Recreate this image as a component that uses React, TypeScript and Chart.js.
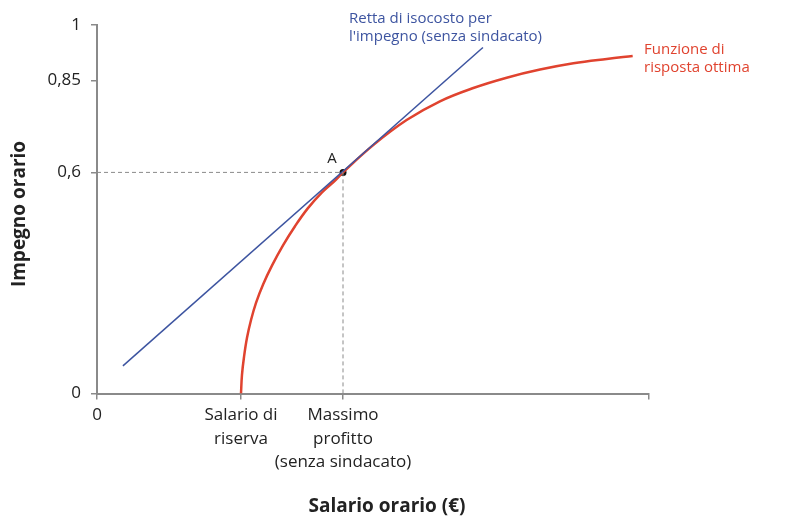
import React, { useEffect, useRef } from "react";
import { Chart, registerables } from "chart.js";
import type { Plugin } from "chart.js";

Chart.register(...registerables);

// y ticks (impegno orario) and x ticks (salario orario)
const yTickValues = [0, 0.6, 0.85, 1];
const xTickValues = [0, 6, 10.25, 23];
const xTickLabels: (string | string[])[] = [
  "0",
  ["Salario di", "riserva"],
  ["Massimo", "profitto", "(senza sindacato)"],
  "",
];

// funzione di risposta ottima (red curve)
const bestX = [6.0, 6.04, 6.125, 6.25, 6.42, 6.625, 6.92, 7.29, 7.75, 8.25, 8.79, 9.375, 9.92, 10.25, 11.51, 12.9, 14.29, 15.68, 17.07, 18.46, 19.85, 21.24, 22.32];
const bestY = [0, 0.05, 0.099, 0.151, 0.2, 0.246, 0.296, 0.347, 0.402, 0.454, 0.503, 0.546, 0.578, 0.6, 0.674, 0.742, 0.793, 0.829, 0.857, 0.879, 0.896, 0.908, 0.916];

// retta di isocosto (blue line)
const isoX = [1.08, 16.08];
const isoY = [0.075, 0.939];

// point A
const pointAX = 10.25;
const pointAY = 0.6;

const FONT = "'Open Sans', 'Noto Sans', sans-serif";
const BLUE = "#3d54a0";
const RED = "#e0432f";
const GRAY = "#8a8a8a";
const TEXT = "#222";

const App: React.FC = () => {
  const canvasRef = useRef<HTMLCanvasElement | null>(null);
  const chartRef = useRef<Chart | null>(null);

  useEffect(() => {
    document.body.style.margin = "0";
    const canvas = canvasRef.current;
    if (!canvas) return;
    const ctx = canvas.getContext("2d");
    if (!ctx) return;

    if (chartRef.current) {
      chartRef.current.destroy();
      chartRef.current = null;
    }

    // annotations: series labels, point label, axis titles
    const labelsPlugin: Plugin<"line"> = {
      id: "labels",
      afterDraw: (chart) => {
        const c = chart.ctx;
        const xs = chart.scales.x;
        const ys = chart.scales.y;
        c.save();
        c.textBaseline = "middle";
        c.textAlign = "left";

        c.font = `15px ${FONT}`;
        c.fillStyle = BLUE;
        c.fillText("Retta di isocosto per", 349, 19);
        c.fillText("l'impegno (senza sindacato)", 349, 37);

        c.fillStyle = RED;
        c.fillText("Funzione di", 644, 50);
        c.fillText("risposta ottima", 644, 68);

        c.fillStyle = TEXT;
        c.textAlign = "center";
        c.fillText("A", xs.getPixelForValue(pointAX) - 11, ys.getPixelForValue(pointAY) - 14);

        c.font = `bold 19px ${FONT}`;
        c.fillText("Salario orario (€)", 387, 507);

        c.translate(20, 214);
        c.rotate(-Math.PI / 2);
        c.fillText("Impegno orario", 0, 0);
        c.restore();
      },
    };

    chartRef.current = new Chart(ctx, {
      type: "line",
      data: {
        datasets: [
          {
            data: [
              { x: 0, y: pointAY },
              { x: pointAX, y: pointAY },
            ],
            borderColor: GRAY,
            borderWidth: 1,
            borderDash: [4, 3],
            pointRadius: 0,
          },
          {
            data: [
              { x: pointAX, y: pointAY },
              { x: pointAX, y: 0 },
            ],
            borderColor: GRAY,
            borderWidth: 1,
            borderDash: [4, 3],
            pointRadius: 0,
          },
          {
            data: isoX.map((x, i) => ({ x, y: isoY[i] })),
            borderColor: BLUE,
            borderWidth: 1.5,
            pointRadius: 0,
          },
          {
            data: bestX.map((x, i) => ({ x, y: bestY[i] })),
            borderColor: RED,
            borderWidth: 2.5,
            pointRadius: 0,
            tension: 0.4,
          },
          {
            data: [{ x: pointAX, y: pointAY }],
            pointRadius: 3.5,
            pointBorderWidth: 0,
            pointBackgroundColor: "#111",
            showLine: false,
          },
        ],
      },
      options: {
        animation: false,
        responsive: true,
        maintainAspectRatio: false,
        layout: { padding: { top: 25, right: 161, bottom: 0, left: 0 } },
        plugins: { legend: { display: false }, tooltip: { enabled: false } },
        scales: {
          x: {
            type: "linear",
            min: 0,
            max: 23,
            afterFit: (scale) => {
              scale.height = 138.5;
            },
            afterBuildTicks: (scale) => {
              scale.ticks = xTickValues.map((v) => ({ value: v }));
            },
            border: { color: GRAY, width: 2 },
            grid: { drawOnChartArea: false, drawTicks: true, tickLength: 6, color: GRAY, lineWidth: 1.5 },
            ticks: {
              autoSkip: false,
              maxRotation: 0,
              padding: 4,
              color: TEXT,
              font: { family: FONT, size: 17, lineHeight: 1.38 },
              callback: (_v, i) => xTickLabels[i],
            },
          },
          y: {
            type: "linear",
            min: 0,
            max: 1,
            afterFit: (scale) => {
              scale.width = 97;
            },
            afterBuildTicks: (scale) => {
              scale.ticks = yTickValues.map((v) => ({ value: v }));
            },
            border: { color: GRAY, width: 2 },
            grid: { drawOnChartArea: false, drawTicks: true, tickLength: 6, color: GRAY, lineWidth: 1.5 },
            ticks: {
              padding: 10,
              color: TEXT,
              font: { family: FONT, size: 17 },
              callback: (v) => String(v).replace(".", ","),
            },
          },
        },
      },
      plugins: [labelsPlugin],
    });

    return () => {
      if (chartRef.current) {
        chartRef.current.destroy();
        chartRef.current = null;
      }
    };
  }, []);

  return (
    <div style={{ width: 810, height: 532, position: "relative", background: "#fff" }}>
      <canvas ref={canvasRef} />
    </div>
  );
};

export default App;
